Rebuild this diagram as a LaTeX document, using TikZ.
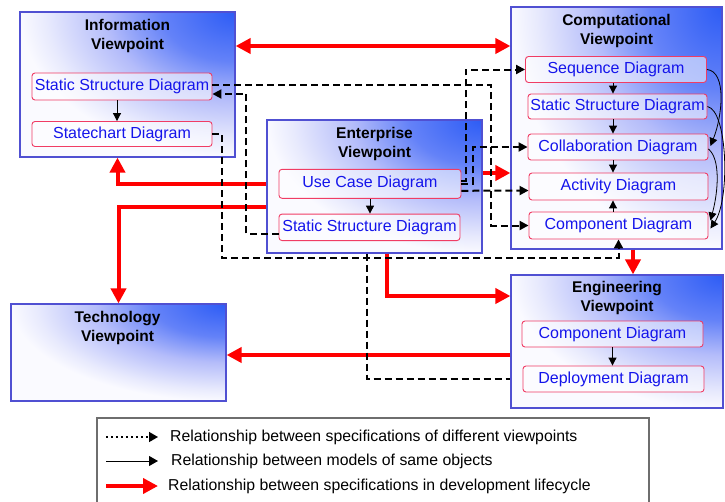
\documentclass[tikz,border=0pt]{standalone}
\usepackage{fontspec}
\setmainfont{Liberation Sans}
\usetikzlibrary{arrows.meta,calc}

\definecolor{vpblue}{RGB}{45,92,245}
\definecolor{vpblue2}{RGB}{100,130,248}
\definecolor{vpmid}{RGB}{180,188,250}
\definecolor{vplight}{RGB}{232,234,253}
\definecolor{vpbase}{RGB}{250,250,255}
\definecolor{vpedge}{RGB}{80,80,210}
\definecolor{dgedge}{RGB}{240,60,100}
\definecolor{dgtext}{RGB}{20,20,235}
\definecolor{lgedge}{RGB}{110,110,110}

% glow spreading out from the upper right corner of each viewpoint box
% (radius 25bp is the rim of the shaded ellipse)
\pgfdeclareradialshading{vpglow}{\pgfpoint{0bp}{0bp}}{%
  color(0bp)=(vpblue); color(8.5bp)=(vpblue2); color(15bp)=(vpmid);
  color(22bp)=(vplight); color(25bp)=(vpbase); color(50bp)=(vpbase)}

\begin{document}
\begin{tikzpicture}[x=1pt,y=-1pt,
  vpbox/.style={draw=vpedge, line width=1.2pt, fill=vpbase, inner sep=0pt,
    path picture={\shade[shading=vpglow]
      let \p1=($(path picture bounding box.north east)-(path picture bounding box.south west)$)
      in (path picture bounding box.north east) ellipse [x radius=\x1, y radius=\y1];}},
  vptitle/.style={anchor=north, align=center, inner sep=0pt,
    font=\fontsize{15.5}{19}\selectfont\bfseries},
  diag/.style={draw=dgedge, line width=0.9pt, rounded corners=3pt, fill=white,
    fill opacity=0.55, text opacity=1, text=dgtext, inner sep=0pt,
    font=\fontsize{16}{18}\selectfont},
  legtext/.style={anchor=west, inner sep=0pt, font=\fontsize{15.8}{18}\selectfont},
  dep/.style={draw=black, line width=2pt, dash pattern=on 7pt off 4pt},
  deparr/.style={dep, -{Triangle[length=9pt,width=9pt]}},
  same/.style={draw=black, line width=1pt, -{Triangle[length=8pt,width=8pt]}},
  samecurve/.style={draw=black, line width=0.8pt, -{Triangle[length=8pt,width=8pt]}},
  life/.style={draw=red, line width=4pt, -{Triangle[length=15pt,width=15pt]}},
  lifebi/.style={draw=red, line width=4pt,
    {Triangle[length=15pt,width=15pt]}-{Triangle[length=15pt,width=15pt]}},
]
\useasboundingbox (0,0) rectangle (725,501);

% ---- viewpoint boxes ----
\node[vpbox, minimum width=215pt, minimum height=145pt] (info) at (127.5,84.5) {};
\node[vpbox, minimum width=211pt, minimum height=242pt] (comp) at (616.5,128) {};
\node[vpbox, minimum width=215pt, minimum height=133pt] (ent)  at (374.5,186.5) {};
\node[vpbox, minimum width=212pt, minimum height=133pt] (eng)  at (617,341.5) {};
\node[vpbox, minimum width=215pt, minimum height=97pt]  (tech) at (118.5,352.5) {};

\node[vptitle] (infoT) at ($(info.north)+(0,8)$) {Information\\Viewpoint};
\node[vptitle] (compT) at ($(comp.north)+(0,8)$) {Computational\\Viewpoint};
\node[vptitle] (entT)  at ($(ent.north)+(0,8)$)  {Enterprise\\Viewpoint};
\node[vptitle] (engT)  at ($(eng.north)+(0,7)$)  {Engineering\\Viewpoint};
\node[vptitle] (techT) at ($(tech.north)+(-1,8)$) {Technology\\Viewpoint};

% ---- diagrams inside the viewpoints ----
\node[diag, minimum width=180pt, minimum height=27pt] (iSSD) at (122,86.5) {Static Structure Diagram};
\node[diag, minimum width=180pt, minimum height=25pt] (iSC)  at (122,134) {Statechart Diagram};

\node[diag, minimum width=181pt, minimum height=26pt] (cSeq) at (616,69.5) {Sequence Diagram};
\node[diag, minimum width=179pt, minimum height=25pt] (cSSD) at (617.5,106.5) {Static Structure Diagram};
\node[diag, minimum width=180pt, minimum height=26pt] (cCol) at (618,147) {Collaboration Diagram};
\node[diag, minimum width=179pt, minimum height=27pt] (cAct) at (618.5,186.5) {Activity Diagram};
\node[diag, minimum width=179pt, minimum height=27pt] (cCmp) at (618.5,225.5) {Component Diagram};

\node[diag, minimum width=182pt, minimum height=29pt] (uc)   at (370,183.8) {Use Case Diagram};
\node[diag, minimum width=181pt, minimum height=26.5pt] (eSSD) at (369.5,227.3) {Static Structure Diagram};

\node[diag, minimum width=181pt, minimum height=26pt] (gCmp) at (612.5,334) {Component Diagram};
\node[diag, minimum width=181pt, minimum height=26pt] (gDep) at (613.5,379) {Deployment Diagram};

% ---- routing coordinates ----
\coordinate (redtop) at (0,46);
\coordinate (rmid) at ($(ent.east)+(0,-13.5)$);
\coordinate (rlow) at (0,296);
\coordinate (rtech) at (0,355);
\coordinate (colx) at (613,0);
\coordinate (laneA) at (491,0);
\coordinate (laneB) at (222,258);
\coordinate (laneC) at (466,0);
\coordinate (laneC2) at (473,0);
\coordinate (laneD) at (367,0);

% ---- development lifecycle (red) ----
\draw[lifebi] (info.east |- redtop) -- (comp.west |- redtop);
\draw[life] (ent.west |- uc.center) -| ($(info.south)+(-10,0)$);
\draw[life] ($(ent.west)+(0,20)$) -| (tech.north);
\draw[life] (rmid) -- (rmid -| comp.west);
\draw[life] ($(ent.south)+(12,0)$) |- (eng.west |- rlow);
\draw[life] ($(comp.south)+(16.5,0)$) -- ($(eng.north)+(16,0)$);
\draw[life] (eng.west |- rtech) -- (tech.east |- rtech);

% ---- relationships between viewpoints (dashed) ----
\draw[deparr] ($(iSSD.east)+(0,-1.5)$) -| (cCmp.west -| laneA) -- (cCmp.west);
\draw[deparr] ($(eSSD.west)+(0,7)$) -| ($(iSSD.east)+(34,7.5)$) -- ($(iSSD.east)+(0,7.5)$);
\draw[deparr] (iSC.east) -| (laneB) -| (cCmp.south);
\draw[deparr] ($(uc.east)+(0,-3)$) -| (cSeq.west -| laneC) -- (cSeq.west);
\draw[deparr] (uc.east) -| (cCol.west -| laneC2) -- (cCol.west);
\draw[deparr] ($(uc.east)+(0,7)$) -- ($(cAct.west)+(0,4)$);
\draw[dep] (ent.south -| laneD) |- (eng.west |- gDep.center);

% ---- relationships between models of same objects ----
\draw[same] ($(iSSD.south)+(-5,0)$) -- ($(iSC.north)+(-5,0)$);
\draw[same] (uc.south) -- (uc.south |- eSSD.north);
\draw[same] (cSeq.south -| colx) -- (cSSD.north -| colx);
\draw[same] (cSSD.south -| colx) -- (cCol.north -| colx);
\draw[same] (cCol.south -| colx) -- (cAct.north -| colx);
\draw[same] (cCmp.north -| colx) -- (cAct.south -| colx);
\draw[same] (gCmp.south) -- (gCmp.south |- gDep.north);

\draw[samecurve] (cSeq.east) .. controls +(20,2) and +(12,-30) .. ($(cCol.east)+(2,-1)$);
\draw[samecurve] (cSSD.east) .. controls +(20,4) and +(20,-30) .. ($(cCmp.east)+(2,3)$);
\draw[samecurve] ($(cCol.east)+(0,2)$) .. controls +(12,10) and +(8,-30) .. ($(cCmp.east)+(2,-5)$);

% ---- legend ----
\node[draw=lgedge, line width=1.5pt, minimum width=552pt, minimum height=110pt,
  anchor=north west, inner sep=0pt] (legend) at (96,417) {};
\coordinate (l1a) at (106,437);  \coordinate (l1b) at (158,437);
\coordinate (l2a) at (106,461);  \coordinate (l2b) at (158,461);
\coordinate (l3a) at (106,486);  \coordinate (l3b) at (158,486);
\draw[black, line width=1.5pt, dash pattern=on 2pt off 3pt,
  -{Triangle[length=9pt,width=10pt]}] (l1a) -- (l1b);
\draw[black, line width=1pt, -{Triangle[length=9pt,width=10pt]}] (l2a) -- (l2b);
\draw[life] (l3a) -- (l3b);
\node[legtext] (lt1) at (170,437) {Relationship between specifications of different viewpoints};
\node[legtext] (lt2) at (171,461) {Relationship between models of same objects};
\node[legtext] (lt3) at (168,486) {Relationship between specifications in development lifecycle};
\end{tikzpicture}
\end{document}
